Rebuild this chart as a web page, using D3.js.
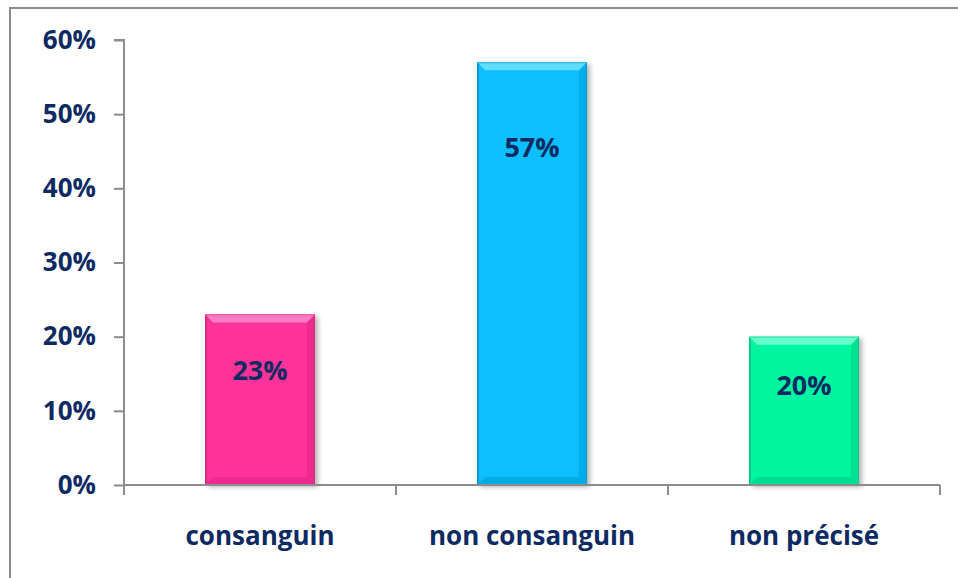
<!DOCTYPE html>
<html>
<head>
<meta charset="utf-8">
<script src="https://cdn.jsdelivr.net/npm/d3@7"></script>
<style>
  html, body { margin: 0; padding: 0; background: #fff; }
  svg { display: block; }
  text { font-family: "Open Sans", Lato, sans-serif; font-weight: 700; fill: #0E2A63; }
</style>
</head>
<body>
<svg id="chart" width="958" height="578"></svg>
<script>
// Répartition selon la consanguinité
const categories = ["consanguin", "non consanguin", "non précisé"];
const values = [0.23, 0.57, 0.20];
const valueLabels = ["23%", "57%", "20%"];
const yTicks = [0, 0.1, 0.2, 0.3, 0.4, 0.5, 0.6];

// Bar palette: face, top bevel, side/bottom bevel
const faceColors = ["#FF339A", "#0ABFFC", "#00F5A0"];
const lightColors = ["#FF7CC4", "#5EDCFF", "#66FFCC"];
const darkColors = ["#C81F78", "#0088BE", "#00B377"];
// Vertical drop of each value label below its bar top (px)
const labelDrop = [55, 84, 48];

const svg = d3.select("#chart");
const W = 958, H = 578;
const plot = { left: 124, right: 940, top: 40, bottom: 485 };
const FONT = "'Open Sans', Lato, sans-serif";
const FSIZE = "26px";

// Outer frame (top and left edges visible)
svg.append("path")
  .attr("d", `M10,${H} L10,8 L${W},8`)
  .attr("fill", "none")
  .attr("stroke", "#8C8C8C")
  .attr("stroke-width", 2);

const x = d3.scaleBand()
  .domain(categories)
  .range([plot.left, plot.right])
  .paddingInner(0.596)
  .paddingOuter(0.298);

const y = d3.scaleLinear()
  .domain([0, 0.6])
  .range([plot.bottom, plot.top]);

// Drop shadow for bars
const defs = svg.append("defs");
const shadow = defs.append("filter").attr("id", "shadow")
  .attr("x", "-20%").attr("y", "-10%").attr("width", "150%").attr("height", "130%");
shadow.append("feGaussianBlur").attr("in", "SourceAlpha").attr("stdDeviation", 2.5).attr("result", "b");
shadow.append("feOffset").attr("in", "b").attr("dx", 3).attr("dy", 2).attr("result", "o");
shadow.append("feComponentTransfer").attr("in", "o").attr("result", "s")
  .append("feFuncA").attr("type", "linear").attr("slope", 0.3);
const merge = shadow.append("feMerge");
merge.append("feMergeNode").attr("in", "s");
merge.append("feMergeNode").attr("in", "SourceGraphic");

// Y axis
const yAxis = d3.axisLeft(y)
  .tickValues(yTicks)
  .tickFormat(d3.format(".0%"))
  .tickSize(10)
  .tickPadding(18);

const gy = svg.append("g")
  .attr("transform", `translate(${plot.left},0)`)
  .call(yAxis);
gy.select(".domain").attr("stroke", "#8C8C8C").attr("stroke-width", 2)
  .attr("d", `M-10,${plot.top}H0V${plot.bottom + 10}`);
gy.selectAll(".tick line").attr("stroke", "#8C8C8C").attr("stroke-width", 2);
gy.selectAll(".tick text")
  .style("font-family", FONT)
  .style("font-weight", 700)
  .style("font-size", FSIZE)
  .attr("fill", "#0E2A63");

// Bars with bevelled edges
const bw = x.bandwidth();
const bev = 8;
const bars = svg.append("g").selectAll("g.bar")
  .data(categories)
  .join("g")
  .attr("class", "bar")
  .attr("filter", "url(#shadow)");

bars.each(function (c, i) {
  const g = d3.select(this);
  const x0 = x(c), x1 = x0 + bw;
  const y0 = y(values[i]), y1 = y(0);
  g.append("rect")
    .attr("x", x0).attr("y", y0)
    .attr("width", bw).attr("height", y1 - y0)
    .attr("fill", faceColors[i]);
  // top bevel
  g.append("path")
    .attr("d", `M${x0},${y0}H${x1}L${x1 - bev},${y0 + bev}H${x0 + bev}Z`)
    .attr("fill", lightColors[i]);
  // left edge
  g.append("path")
    .attr("d", `M${x0},${y0}L${x0 + 2},${y0 + 2}V${y1 - 2}L${x0},${y1}Z`)
    .attr("fill", darkColors[i]).attr("opacity", 0.5);
  // right bevel
  g.append("path")
    .attr("d", `M${x1},${y0}L${x1 - bev},${y0 + bev}V${y1 - bev}L${x1},${y1}Z`)
    .attr("fill", darkColors[i]).attr("opacity", 0.3);
  // bottom bevel
  g.append("path")
    .attr("d", `M${x0},${y1}L${x0 + bev},${y1 - bev}H${x1 - bev}L${x1},${y1}Z`)
    .attr("fill", darkColors[i]).attr("opacity", 0.35);
  // thin outline
  g.append("rect")
    .attr("x", x0 + 0.5).attr("y", y0 + 0.5)
    .attr("width", bw - 1).attr("height", y1 - y0 - 1)
    .attr("fill", "none").attr("stroke", darkColors[i]).attr("stroke-opacity", 0.5);
});

// X axis
const xAxis = d3.axisBottom(x).tickSize(0).tickPadding(42);
const gx = svg.append("g")
  .attr("transform", `translate(0,${plot.bottom})`)
  .call(xAxis);
gx.select(".domain").attr("stroke", "#8C8C8C").attr("stroke-width", 2)
  .attr("d", `M${plot.left},0H${plot.right}`);
gx.selectAll(".tick text")
  .style("font-family", FONT)
  .style("font-weight", 700)
  .style("font-size", FSIZE)
  .attr("fill", "#0E2A63");
// category boundary ticks
const bounds = [plot.left].concat(categories.map(c => x(c) + bw + x.step() * x.paddingInner() / 2));
bounds[bounds.length - 1] = plot.right;
gx.selectAll("line.sep")
  .data(bounds.slice(1))
  .join("line")
  .attr("class", "sep")
  .attr("x1", d => d).attr("x2", d => d)
  .attr("y1", 0).attr("y2", 10)
  .attr("stroke", "#8C8C8C").attr("stroke-width", 2);

// Value labels
svg.append("g").selectAll("text.val")
  .data(categories)
  .join("text")
  .attr("class", "val")
  .attr("x", c => x(c) + bw / 2)
  .attr("y", (c, i) => y(values[i]) + labelDrop[i])
  .attr("text-anchor", "middle")
  .attr("dominant-baseline", "central")
  .style("font-family", FONT)
  .style("font-size", "27px")
  .text((c, i) => valueLabels[i]);
</script>
</body>
</html>
